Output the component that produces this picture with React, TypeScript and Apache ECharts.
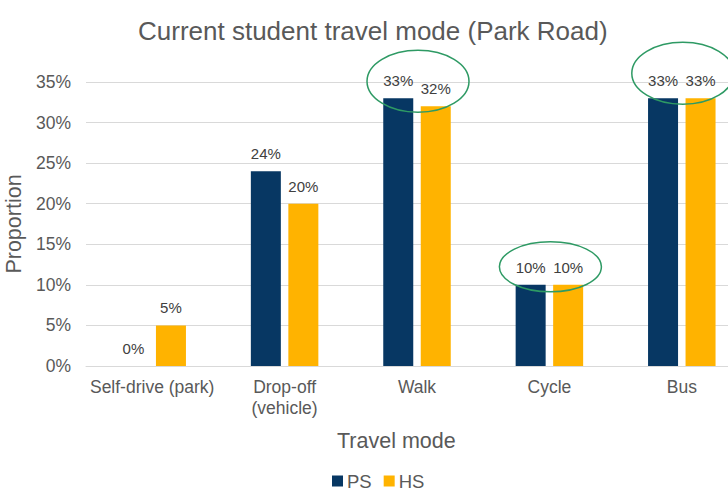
import React, { useEffect, useRef } from "react";
import * as echarts from "echarts";

const categories = ["Self-drive (park)", "Drop-off\n(vehicle)", "Walk", "Cycle", "Bus"];
const psValues = [0, 24, 33, 10, 33];
const hsValues = [5, 20, 32, 10, 33];
const yTicks = [0, 5, 10, 15, 20, 25, 30, 35];
const highlighted = [2, 3, 4];
const highlightLift = [17, 18, 25];
const highlightRy = [31, 25, 31];

const FONT = "'Liberation Sans', Arial, sans-serif";
const GREY = "#595959";

export default function App() {
  const ref = useRef<HTMLDivElement>(null);
  useEffect(() => {
    if (!ref.current) return;
    const chart = echarts.init(ref.current, null, { renderer: "svg" });
    const label = {
      show: true,
      position: "top",
      distance: 10,
      formatter: "{c}%",
      color: "#404040",
      fontSize: 15,
      fontFamily: FONT,
    };
    chart.setOption({
      animation: false,
      backgroundColor: "#ffffff",
      textStyle: { fontFamily: FONT },
      title: {
        text: "Current student travel mode (Park Road)",
        left: 133,
        top: 13,
        textStyle: { fontSize: 26, fontWeight: "normal", color: GREY, fontFamily: FONT },
      },
      legend: {
        data: ["PS", "HS"],
        left: 332,
        top: 471,
        padding: 0,
        itemWidth: 11,
        itemHeight: 11,
        itemGap: 12,
        icon: "rect",
        textStyle: { fontSize: 18.5, lineHeight: 20, color: GREY, fontFamily: FONT, padding: [0, 0, 0, -1] },
      },
      grid: { left: 86, right: 2, top: 82, bottom: 125, containLabel: false, outerBoundsMode: "none" },
      xAxis: {
        type: "category",
        data: categories,
        axisTick: { show: false },
        axisLine: { lineStyle: { color: "#d9d9d9" } },
        axisLabel: { interval: 0, color: GREY, fontSize: 17.5, margin: 10, lineHeight: 21, fontFamily: FONT },
      },
      yAxis: {
        type: "value",
        min: yTicks[0],
        max: yTicks[yTicks.length - 1],
        interval: 5,
        name: "Proportion",
        nameLocation: "middle",
        nameRotate: 90,
        nameGap: 53,
        nameTextStyle: { fontSize: 21.5, color: GREY, fontFamily: FONT },
        axisLine: { show: false },
        axisTick: { show: false },
        axisLabel: { formatter: "{value}%", color: GREY, fontSize: 17.5, margin: 15, fontFamily: FONT },
        splitLine: { lineStyle: { color: "#d9d9d9" } },
      },
      series: [
        {
          name: "PS",
          type: "bar",
          data: psValues,
          barWidth: 30,
          barGap: "25%",
          itemStyle: { color: "#073763" },
          label,
        },
        {
          name: "HS",
          type: "bar",
          data: hsValues,
          barWidth: 30,
          itemStyle: { color: "#ffb300" },
          label,
        },
      ],
    });
    const graphics: any[] = [
      {
        type: "text",
        left: 337,
        top: 430,
        style: { text: "Travel mode", fontSize: 21.5, fill: GREY, fontFamily: FONT },
      },
    ];
    highlighted.forEach((ci, i) => {
      const top = Math.max(psValues[ci], hsValues[ci]);
      const p = chart.convertToPixel({ gridIndex: 0 }, [ci, top]) as number[];
      graphics.push({
        type: "ellipse",
        shape: { cx: p[0] + 1, cy: p[1] - highlightLift[i], rx: 51, ry: highlightRy[i] },
        style: { fill: "none", stroke: "#2e9a64", lineWidth: 1.5 },
        z: 100,
      });
    });
    chart.setOption({ graphic: graphics });
    return () => chart.dispose();
  }, []);
  return (
    <div style={{ position: "fixed", left: 0, top: 0, width: 728, height: 491, overflow: "hidden", background: "#fff" }}>
      <div ref={ref} style={{ width: 750, height: 491 }} />
    </div>
  );
}
